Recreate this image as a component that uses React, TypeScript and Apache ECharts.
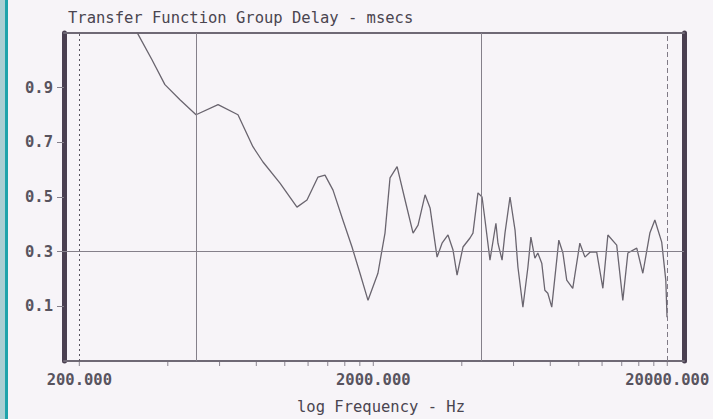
import React, { useEffect, useRef } from "react";
import * as echarts from "echarts";

// Group delay curve (frequency in Hz, delay in msecs)
const freqHz = [
  297, 317, 353, 391, 440, 499, 593, 693, 779, 843,
  963, 1100, 1190, 1297, 1370, 1459, 1577, 1693, 1802, 1919,
  2074, 2192, 2280, 2410, 2565, 2731, 2840, 3000, 3120, 3296,
  3427, 3590, 3735, 3855, 4038, 4266, 4366, 4540, 4688, 4798,
  4988, 5226, 5310, 5484, 5610, 5836, 6070, 6210, 6456, 6714,
  6872, 7092, 7256, 7484, 7666, 7846, 8092, 8414, 8552, 8832,
  9100, 9540, 10084, 10496, 10916, 11508, 12078, 12560, 13460, 14120,
  14688, 15748, 16516, 17452, 18148, 19148, 19770, 19960,
];
const delayMs = [
  1.15, 1.095, 1.003, 0.911, 0.856, 0.801, 0.838, 0.801, 0.684, 0.628,
  0.551, 0.463, 0.489, 0.573, 0.58, 0.525, 0.415, 0.317, 0.221, 0.122,
  0.221, 0.368, 0.57, 0.611, 0.489, 0.368, 0.397, 0.508, 0.46, 0.28,
  0.331, 0.361, 0.306, 0.214, 0.317, 0.35, 0.368, 0.515, 0.5, 0.416,
  0.269, 0.404, 0.331, 0.269, 0.368, 0.5, 0.379, 0.243, 0.097, 0.243,
  0.353, 0.276, 0.295, 0.258, 0.159, 0.148, 0.097, 0.269, 0.342, 0.295,
  0.196, 0.166, 0.331, 0.28, 0.298, 0.298, 0.166, 0.361, 0.324, 0.122,
  0.295, 0.313, 0.221, 0.368, 0.416, 0.335, 0.196, 0.06,
];

const xMinHz = 177.4;
const xMaxHz = 22800;
const yMin = -0.1;
const yMax = 1.1;
const yInterval = 0.2;

const xLabelFreqs = [200, 2000, 20000];
const xLabelLineTypes = ["dotted", "none", "dashed"];
const minorTickFreqs = [
  200, 400, 600, 800, 1000, 1200, 1400, 1600, 1800, 2000,
  4000, 6000, 8000, 10000, 12000, 14000, 16000, 18000, 20000,
];
const vGridFreqs = [500, 4650];
const hGridValues = [0.3];

const titleText = "Transfer Function Group Delay - msecs";
const xAxisTitle = "log Frequency - Hz";

const MONO = "'DejaVu Sans Mono', 'Liberation Mono', monospace";
const TEXT_COLOR = "#58535e";
const GRID_COLOR = "#85808a";
const FRAME_DARK = "#4a3f50";

export default function App() {
  const ref = useRef<HTMLDivElement>(null);

  useEffect(() => {
    document.body.style.margin = "0";
    if (!ref.current) return;
    const chart = echarts.init(ref.current, undefined, { renderer: "svg" });

    const curve = freqHz.map((f, i) => [f, delayMs[i]]);

    const labelLines = xLabelFreqs.map((f, i) => {
      const t = xLabelLineTypes[i];
      return {
        xAxis: f,
        lineStyle:
          t === "none"
            ? { color: "rgba(0,0,0,0)", width: 0 }
            : {
                type: t === "dotted" ? [2, 3] : [5, 3],
                color: t === "dotted" ? "#5a5560" : "#807a86",
                width: 1,
              },
      };
    });

    const option: any = {
      animation: false,
      backgroundColor: "#f7f4f8",
      title: [
        {
          text: titleText,
          left: 68,
          top: 10,
          padding: 0,
          textStyle: { fontFamily: MONO, fontSize: 15.5, fontWeight: "normal", color: "#4a4550" },
        },
        {
          text: xAxisTitle,
          left: 297,
          top: 399,
          padding: 0,
          textStyle: { fontFamily: MONO, fontSize: 15.5, fontWeight: "normal", color: "#4a4550" },
        },
      ],
      graphic: [
        { type: "rect", shape: { x: 0, y: 0, width: 5, height: 419 }, style: { fill: "#a9cfd3" }, silent: true },
        { type: "rect", shape: { x: 5, y: 0, width: 3, height: 419 }, style: { fill: "#1ea3ab" }, silent: true },
      ],
      grid: { left: 64, right: 29, top: 33, bottom: 58, containLabel: false },
      xAxis: [
        {
          type: "log",
          logBase: 10,
          min: xMinHz,
          max: xMaxHz,
          axisLine: { show: true, onZero: false, lineStyle: { color: "#6f6975", width: 2 } },
          axisTick: { show: false },
          axisLabel: { show: false },
          splitLine: { show: false },
          minorTick: { show: false },
        },
        {
          type: "value",
          position: "top",
          min: 0,
          max: 1,
          axisLine: { show: true, onZero: false, lineStyle: { color: "#6f6975", width: 2 } },
          axisTick: { show: false },
          axisLabel: { show: false },
          splitLine: { show: false },
        },
      ],
      yAxis: [
        {
          type: "value",
          min: yMin,
          max: yMax,
          interval: yInterval,
          axisLine: { show: true, onZero: false, lineStyle: { color: FRAME_DARK, width: 5 } },
          axisTick: { show: true, length: 7, lineStyle: { color: GRID_COLOR, width: 1 } },
          axisLabel: {
            show: true,
            margin: 11,
            showMinLabel: false,
            showMaxLabel: false,
            fontFamily: MONO,
            fontSize: 15.5,
            fontWeight: "bold",
            color: TEXT_COLOR,
            formatter: (v: number) => v.toFixed(1),
          },
          splitLine: { show: false },
        },
        {
          type: "value",
          position: "right",
          min: yMin,
          max: yMax,
          axisLine: { show: true, onZero: false, lineStyle: { color: FRAME_DARK, width: 5 } },
          axisTick: { show: false },
          axisLabel: { show: false },
          splitLine: { show: false },
        },
      ],
      series: [
        {
          name: "grid lines",
          type: "line",
          data: [],
          clip: false,
          silent: true,
          markLine: {
            silent: true,
            symbol: ["none", "none"],
            label: { show: false },
            lineStyle: { color: GRID_COLOR, width: 1, type: "solid" },
            data: [
              ...vGridFreqs.map((f) => ({ xAxis: f })),
              ...hGridValues.map((v) => ({ yAxis: v })),
            ],
          },
        },
        {
          name: "x labels",
          type: "line",
          data: [],
          clip: false,
          silent: true,
          markLine: {
            silent: true,
            symbol: ["none", "none"],
            label: {
              show: true,
              position: "start",
              distance: 11,
              fontFamily: MONO,
              fontSize: 15.5,
              fontWeight: "bold",
              color: TEXT_COLOR,
              formatter: (p: any) => Number(p.value).toFixed(3),
            },
            data: labelLines,
          },
        },
        {
          name: "minor ticks",
          type: "custom",
          silent: true,
          clip: false,
          data: minorTickFreqs.map((f) => [f, yMin]),
          encode: { x: 0, y: 1 },
          renderItem: (_params: any, api: any) => {
            const p = api.coord([api.value(0), api.value(1)]);
            return {
              type: "line",
              shape: { x1: p[0], y1: p[1] + 1, x2: p[0], y2: p[1] + 5 },
              style: { stroke: "#8a8590", lineWidth: 1 },
            };
          },
          z: 1,
        },
        {
          name: "group delay",
          type: "line",
          data: curve,
          showSymbol: false,
          symbol: "none",
          clip: true,
          silent: true,
          lineStyle: { color: "#6a656f", width: 1.3 },
          z: 3,
        },
      ],
    };

    chart.setOption(option);
    return () => {
      chart.dispose();
    };
  }, []);

  return <div ref={ref} style={{ width: 713, height: 419 }} />;
}
